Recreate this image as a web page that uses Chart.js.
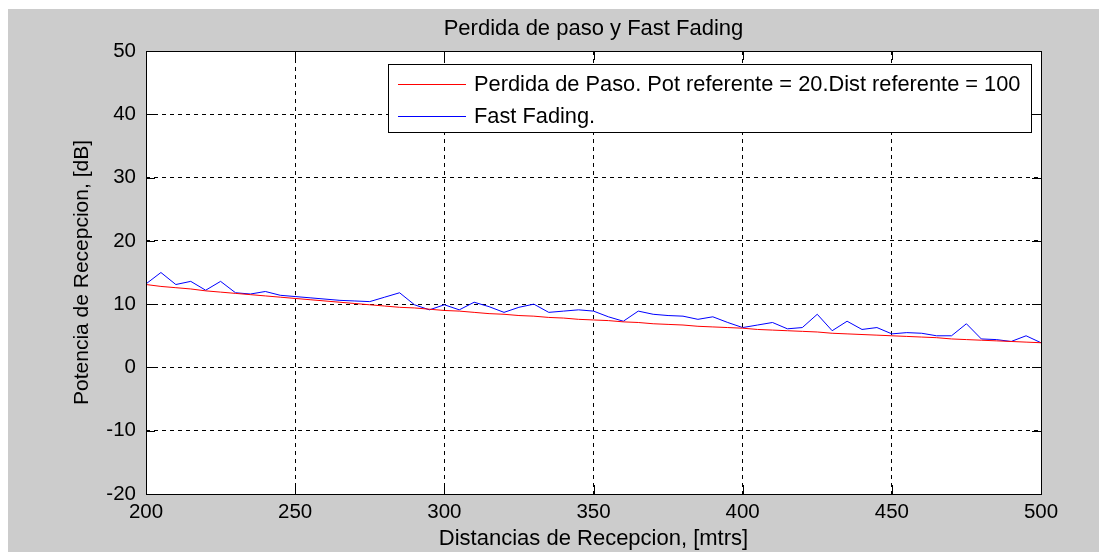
<!DOCTYPE html>
<html>
<head>
<meta charset="utf-8">
<script src="https://cdn.jsdelivr.net/npm/chart.js@4"></script>
<style>
  html, body { margin: 0; padding: 0; background: #ffffff; }
  #wrap { width: 1107px; height: 552px; }
</style>
</head>
<body>
<div id="wrap"><canvas id="chart-fading" width="1107" height="552"></canvas></div>
<script>
// distances in metres, one sample every 5 m
const distancias = [
  200, 205, 210, 215, 220, 225, 230, 235, 240, 245,
  250, 255, 260, 265, 270, 275, 280, 285, 290, 295,
  300, 305, 310, 315, 320, 325, 330, 335, 340, 345,
  350, 355, 360, 365, 370, 375, 380, 385, 390, 395,
  400, 405, 410, 415, 420, 425, 430, 435, 440, 445,
  450, 455, 460, 465, 470, 475, 480, 485, 490, 495,
  500,
];

// path loss curve (dB)
const perdidaPaso = [
  13.1, 12.8, 12.6, 12.4, 12.1, 11.9, 11.7, 11.5, 11.3, 11.1,
  10.9, 10.7, 10.5, 10.3, 10.1, 9.9, 9.7, 9.5, 9.4, 9.2,
  9.0, 8.9, 8.7, 8.5, 8.4, 8.2, 8.1, 7.9, 7.8, 7.6,
  7.5, 7.4, 7.2, 7.1, 6.9, 6.8, 6.7, 6.5, 6.4, 6.3,
  6.2, 6.0, 5.9, 5.8, 5.7, 5.6, 5.4, 5.3, 5.2, 5.1,
  5.0, 4.9, 4.8, 4.7, 4.5, 4.4, 4.3, 4.2, 4.1, 4.0,
  3.9,
];

// fast fading samples (dB)
const fastFading = [
  13.2, 15.0, 13.1, 13.6, 12.2, 13.6, 11.8, 11.6, 12.0, 11.4,
  11.2, 11.0, 10.8, 10.6, 10.5, 10.4, 11.1, 11.8, 9.9, 9.1,
  9.9, 9.1, 10.3, 9.6, 8.7, 9.5, 10.0, 8.7, 8.9, 9.1,
  8.9, 8.0, 7.3, 8.9, 8.4, 8.2, 8.1, 7.6, 8.0, 7.1,
  6.3, 6.7, 7.1, 6.1, 6.3, 8.4, 5.8, 7.3, 6.0, 6.3,
  5.3, 5.5, 5.4, 5.0, 5.0, 6.9, 4.5, 4.4, 4.1, 5.0,
  3.9,
];

const xTicks = [200, 250, 300, 350, 400, 450, 500];
const yTicks = [-20, -10, 0, 10, 20, 30, 40, 50];

const seriesLabels = [
  "Perdida de Paso. Pot referente = 20.Dist referente = 100",
  "Fast Fading.",
];
const seriesColors = ["#ff0000", "#0000ff"];

const chartTitle = "Perdida de paso y Fast Fading";

const FONT = "'Liberation Sans', Arial, sans-serif";

const toPoints = (ys) => distancias.map((d, i) => ({ x: d, y: ys[i] }));

// gray MATLAB-style figure with a thin white strip on top/left
const figureBackground = {
  id: "figureBackground",
  beforeDraw(chart) {
    const ctx = chart.ctx;
    ctx.save();
    ctx.fillStyle = "#ffffff";
    ctx.fillRect(0, 0, chart.width, chart.height);
    ctx.fillStyle = "#cccccc";
    ctx.fillRect(8, 9, chart.width - 16, chart.height - 9);
    const a = chart.chartArea;
    ctx.fillStyle = "#ffffff";
    ctx.fillRect(a.left, a.top, a.right - a.left, a.bottom - a.top);
    ctx.restore();
  },
};

// solid box, inward tick marks on all four sides, title and the boxed legend
const axesBox = {
  id: "axesBox",
  afterDraw(chart) {
    const ctx = chart.ctx;
    const a = chart.chartArea;
    const xs = chart.scales.x;
    const ys = chart.scales.y;
    const len = 9;
    ctx.save();
    ctx.strokeStyle = "#000000";
    ctx.lineWidth = 1;
    ctx.beginPath();
    xTicks.forEach((v) => {
      const px = Math.round(xs.getPixelForValue(v)) + 0.5;
      ctx.moveTo(px, a.bottom); ctx.lineTo(px, a.bottom - len);
      ctx.moveTo(px, a.top); ctx.lineTo(px, a.top + len);
    });
    yTicks.forEach((v) => {
      const py = Math.round(ys.getPixelForValue(v)) + 0.5;
      ctx.moveTo(a.left, py); ctx.lineTo(a.left + len, py);
      ctx.moveTo(a.right, py); ctx.lineTo(a.right - len, py);
    });
    ctx.stroke();
    ctx.strokeRect(Math.round(a.left) + 0.5, Math.round(a.top) + 0.5,
      Math.round(a.right - a.left), Math.round(a.bottom - a.top));

    // title, centred over the axes
    ctx.fillStyle = "#000000";
    ctx.font = `22px ${FONT}`;
    ctx.textAlign = "center";
    ctx.textBaseline = "middle";
    ctx.fillText(chartTitle, (a.left + a.right) / 2, 29);

    // legend
    const lx = 388, ly = 64, lw = 643, lh = 68;
    ctx.fillStyle = "#ffffff";
    ctx.fillRect(lx, ly, lw, lh);
    ctx.strokeRect(lx + 0.5, ly + 0.5, lw, lh);
    ctx.font = `21.8px ${FONT}`;
    ctx.textAlign = "left";
    chart.data.datasets.forEach((ds, i) => {
      const rowY = ly + 20 + i * 32;
      ctx.strokeStyle = ds.borderColor;
      ctx.beginPath();
      ctx.moveTo(lx + 10, rowY + 0.5);
      ctx.lineTo(lx + 78, rowY + 0.5);
      ctx.stroke();
      ctx.fillStyle = "#000000";
      ctx.fillText(ds.label, lx + 86, rowY + 1);
    });
    ctx.restore();
  },
};

new Chart(document.getElementById("chart-fading").getContext("2d"), {
  type: "line",
  data: {
    datasets: [
      {
        label: seriesLabels[0],
        data: toPoints(perdidaPaso),
        borderColor: seriesColors[0],
        backgroundColor: seriesColors[0],
        borderWidth: 1,
        pointRadius: 0,
        tension: 0,
      },
      {
        label: seriesLabels[1],
        data: toPoints(fastFading),
        borderColor: seriesColors[1],
        backgroundColor: seriesColors[1],
        borderWidth: 1,
        pointRadius: 0,
        tension: 0,
      },
    ],
  },
  options: {
    responsive: false,
    animation: false,
    devicePixelRatio: 1,
    layout: { padding: { top: 51, left: 0, right: 66, bottom: 0 } },
    plugins: {
      legend: { display: false },
      tooltip: { enabled: false },
      title: { display: false },
    },
    scales: {
      x: {
        type: "linear",
        min: 200,
        max: 500,
        afterFit: (scale) => { scale.height = 58; },
        afterBuildTicks: (scale) => { scale.ticks = xTicks.map((v) => ({ value: v })); },
        grid: { color: "#000000", lineWidth: 1, drawTicks: false },
        border: { display: false, dash: [4, 4] },
        ticks: { color: "#000000", padding: 6, maxRotation: 0, font: { family: FONT, size: 20.5 } },
        title: {
          display: true,
          text: "Distancias de Recepcion, [mtrs]",
          color: "#000000",
          font: { family: FONT, size: 22 },
          padding: { top: 0, bottom: 0 },
        },
      },
      y: {
        type: "linear",
        min: -20,
        max: 50,
        afterFit: (scale) => { scale.width = 146; },
        afterBuildTicks: (scale) => { scale.ticks = yTicks.map((v) => ({ value: v })); },
        grid: { color: "#000000", lineWidth: 1, drawTicks: false },
        border: { display: false, dash: [4, 4] },
        ticks: { color: "#000000", padding: 10, font: { family: FONT, size: 20.5 } },
        title: {
          display: true,
          text: "Potencia de Recepcion, [dB]",
          color: "#000000",
          font: { family: FONT, size: 21 },
          padding: { top: 70, bottom: 0 },
        },
      },
    },
  },
  plugins: [figureBackground, axesBox],
});
</script>
</body>
</html>
